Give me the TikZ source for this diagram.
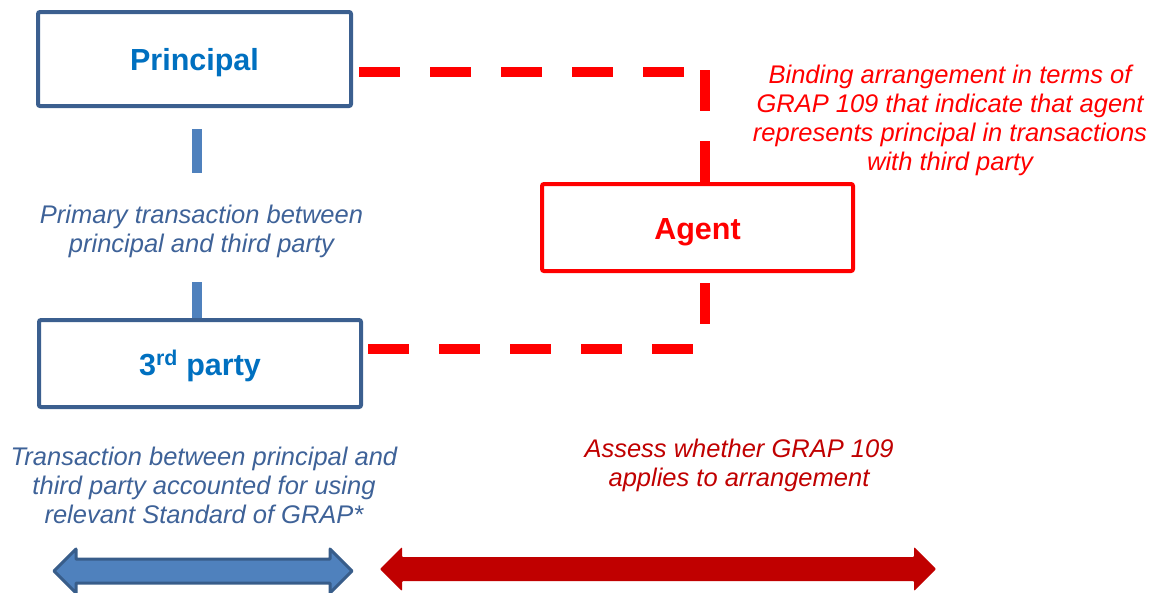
\documentclass[tikz,border=0pt]{standalone}
\usepackage{fontspec}
\setmainfont{Liberation Sans}
\usepackage{xcolor}
\usetikzlibrary{calc}
\definecolor{boxblue}{HTML}{3B5F8F}
\definecolor{labelblue}{HTML}{0070C0}
\definecolor{noteblue}{HTML}{3E6298}
\definecolor{linkblue}{HTML}{4F81BD}
\definecolor{arrowedge}{HTML}{385D8A}
\definecolor{darkred}{HTML}{C00000}

\begin{document}
\begin{tikzpicture}[x=1pt, y=-1pt,
  party/.style={draw=boxblue, line width=4pt, rounded corners=2pt, text=labelblue,
    font=\fontsize{30.5}{34}\selectfont\bfseries, text height=23pt, text depth=0pt},
  note/.style={align=center, inner sep=0pt, font=\fontsize{25.5}{29}\selectfont\itshape},
  bluelink/.style={linkblue, line width=10pt},
  redlink/.style={red, line width=10pt, dash pattern=on 41pt off 30pt}]

  \useasboundingbox (0,0) rectangle (1157,592);

  % Nodes
  \node[party, minimum width=313pt, minimum height=94pt] (prin) at (194.5,59) {Principal};
  \node[party, minimum width=322pt, minimum height=87pt] (third) at (200,363.5) {3\textsuperscript{rd} party};
  \node[party, draw=red, text=red, minimum width=311pt, minimum height=87pt] (agent) at (697.5,227.5) {Agent};

  \node[note, text=noteblue, inner ysep=28pt] (primary) at (201.5,231.5) {Primary transaction between\\principal and third party};
  \node[note, text=red] (binding) at (950,120) {Binding arrangement in terms of\\GRAP 109 that indicate that agent\\represents principal in transactions\\with third party};
  \node[note, text=noteblue] (accounted) at (204,485) {Transaction between principal and\\third party accounted for using\\relevant Standard of GRAP*};
  \node[note, text=darkred] (assess) at (739,465.5) {Assess whether GRAP 109\\applies to arrangement};

  \coordinate (ltop) at (197,129);
  \coordinate (ctop) at (705,72);
  \coordinate (cbot) at (705,349);

  % Connectors
  \draw[bluelink] (ltop) -- ([yshift=4pt]ltop |- primary.north);
  \draw[bluelink] ([yshift=4pt]ltop |- primary.south) -- (ltop |- third.north);

  \draw[redlink] ([shift={(6,13)}]prin.east) -- (ctop);
  \draw[redlink] ($(ctop)+(0,-2)$) -- (ctop |- agent.north);
  \draw[redlink] ([shift={(5,-14.5)}]third.east) -- (cbot);
  \draw[redlink, dash phase=61pt] (ctop |- agent.south) -- (cbot);

  % Scope arrows
  \draw[draw=arrowedge, fill=linkblue, line width=3pt, line join=round]
    (54,571) -- (76,549) -- (76,559) -- (330,559) -- (330,549) -- (352,571)
    -- (330,593) -- (330,583) -- (76,583) -- (76,593) -- cycle;
  \fill[darkred, rounded corners=1pt]
    (380,569) -- (402,547) -- (402,557) -- (914,557) -- (914,547) -- (936,569)
    -- (914,591) -- (914,581) -- (402,581) -- (402,591) -- cycle;
\end{tikzpicture}
\end{document}
